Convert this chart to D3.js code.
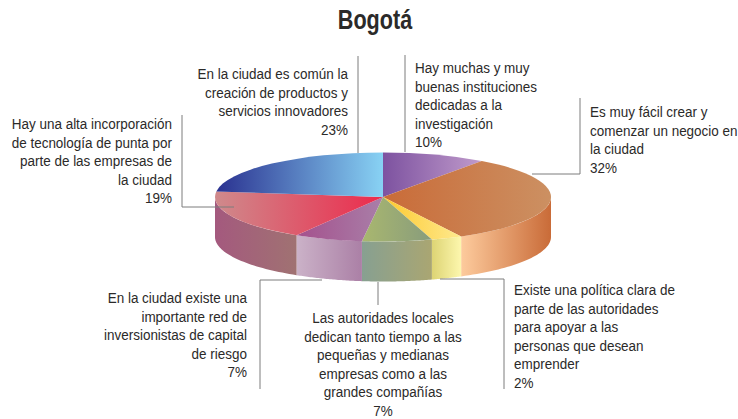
<!DOCTYPE html>
<html><head><meta charset="utf-8">
<script src="https://cdn.jsdelivr.net/npm/d3@7"></script>
<style>html,body{margin:0;background:#fff}svg{display:block}
text{font-family:"Liberation Sans",sans-serif;fill:#2b2a29;font-size:15.5px}</style>
</head><body><svg id="c" width="738" height="419"></svg>
<script>
const title = "Bogotá";
const categories = ["investigacion","negocio","politica","autoridades","red","tecnologia","creacion"];
const percentLabels = ["10%","32%","2%","7%","7%","19%","23%"];
const values = [10, 32.3, 3, 6.7, 6.6, 18.4, 23];
const labelLines = [
 ["Hay muchas y muy","buenas instituciones","dedicadas a la","investigación"],
 ["Es muy fácil crear y","comenzar un negocio en","la ciudad"],
 ["Existe una política clara de","parte de las autoridades","para apoyar a las","personas que desean","emprender"],
 ["Las autoridades locales","dedican tanto tiempo a las","pequeñas y medianas","empresas como a las","grandes compañías"],
 ["En la ciudad existe una","importante red de","inversionistas de capital","de riesgo"],
 ["Hay una alta incorporación","de tecnología de punta por","parte de las empresas de","la ciudad"],
 ["En la ciudad es común la","creación de productos y","servicios innovadores"]
];
const labelPos = [[415,73,"start"],[590,117,"start"],[514,295,"start"],[383,323,"middle"],[247,303,"end"],[172,129,"end"],[348,79,"end"]];
const topColors = [["#7d52a0","#c09bcb"],["#c96b38","#cc9062"],["#fdc92f","#fee98e"],["#a9b76f","#889c7c"],["#a4508d","#a97fa8"],["#cf8a8c","#ec2a4c"],["#2a3190","#88d2f4"]];
const sideColors = [null,["#fdcb9d","#c96b38"],["#ddd474","#fdf7ae"],["#87a091","#aaa672"],["#cbb2c8","#ab80a6"],["#a4597e","#a07272"],null];
const leaders = [
 [[405,55],[405,152]],
 [[580,98],[580,174],[532,174]],
 [[504,389],[504,279],[440,279]],
 [[378,282],[378,305]],
 [[260,389],[260,280],[322,280]],
 [[182,115],[182,207],[234,207]],
 [[358,56],[358,153]]
];
const cx=383, cy=197, rx=168, ry=44.5, depth=40, lineH=18.6, squeeze=0.87;

const svg=d3.select("#c"), defs=svg.append("defs");
const pie=d3.pie().sort(null).value(d=>d)(values);
const px=a=>cx+rx*Math.sin(a), py=a=>cy-ry*Math.cos(a);
const grad=(id,c,x1,x2)=>{const g=defs.append("linearGradient").attr("id",id).attr("gradientUnits","userSpaceOnUse")
  .attr("x1",x1).attr("x2",x2).attr("y1",0).attr("y2",0);
  g.append("stop").attr("offset",0).attr("stop-color",c[0]);g.append("stop").attr("offset",1).attr("stop-color",c[1]);};

// sides
const area=d3.area().x(a=>px(a)).y0(a=>py(a)).y1(a=>py(a)+depth);
pie.forEach((p,i)=>{
  if(!sideColors[i])return;
  const a0=Math.max(p.startAngle,Math.PI/2), a1=Math.min(p.endAngle,Math.PI*1.5);
  const pts=d3.range(0,41).map(k=>a0+(a1-a0)*k/40);
  const xs=d3.extent(pts,px);
  grad("s"+i,sideColors[i],xs[0],xs[1]);
  svg.append("path").attr("d",area(pts)).attr("fill",`url(#s${i})`);
});
// tops
const arc=d3.arc().innerRadius(0).outerRadius(rx);
const topG=svg.append("g").attr("transform",`translate(${cx},${cy}) scale(1,${ry/rx})`);
pie.forEach((p,i)=>{
  const pts=d3.range(0,41).map(k=>p.startAngle+(p.endAngle-p.startAngle)*k/40).map(a=>rx*Math.sin(a)).concat([0]);
  const xs=d3.extent(pts);
  grad("t"+i,topColors[i],xs[0],xs[1]);
  topG.append("path").attr("d",arc(p)).attr("fill",`url(#t${i})`);
});
// leaders
const line=d3.line();
leaders.forEach(l=>svg.append("path").attr("d",line(l)).attr("fill","none").attr("stroke","#7d7d7d").attr("stroke-width",1));
// labels
labelLines.forEach((lines,i)=>{
  const [x,y,anchor]=labelPos[i];
  lines.concat([percentLabels[i]]).forEach((t,k)=>{
    svg.append("text").attr("transform",`translate(${x},${y+k*lineH}) scale(${squeeze},1)`).attr("text-anchor",anchor).text(t);
  });
});
svg.append("text").attr("transform","translate(375,29) scale(0.8,1)").attr("text-anchor","middle").style("font-size","27px").style("font-weight","bold").text(title);
</script></body></html>
